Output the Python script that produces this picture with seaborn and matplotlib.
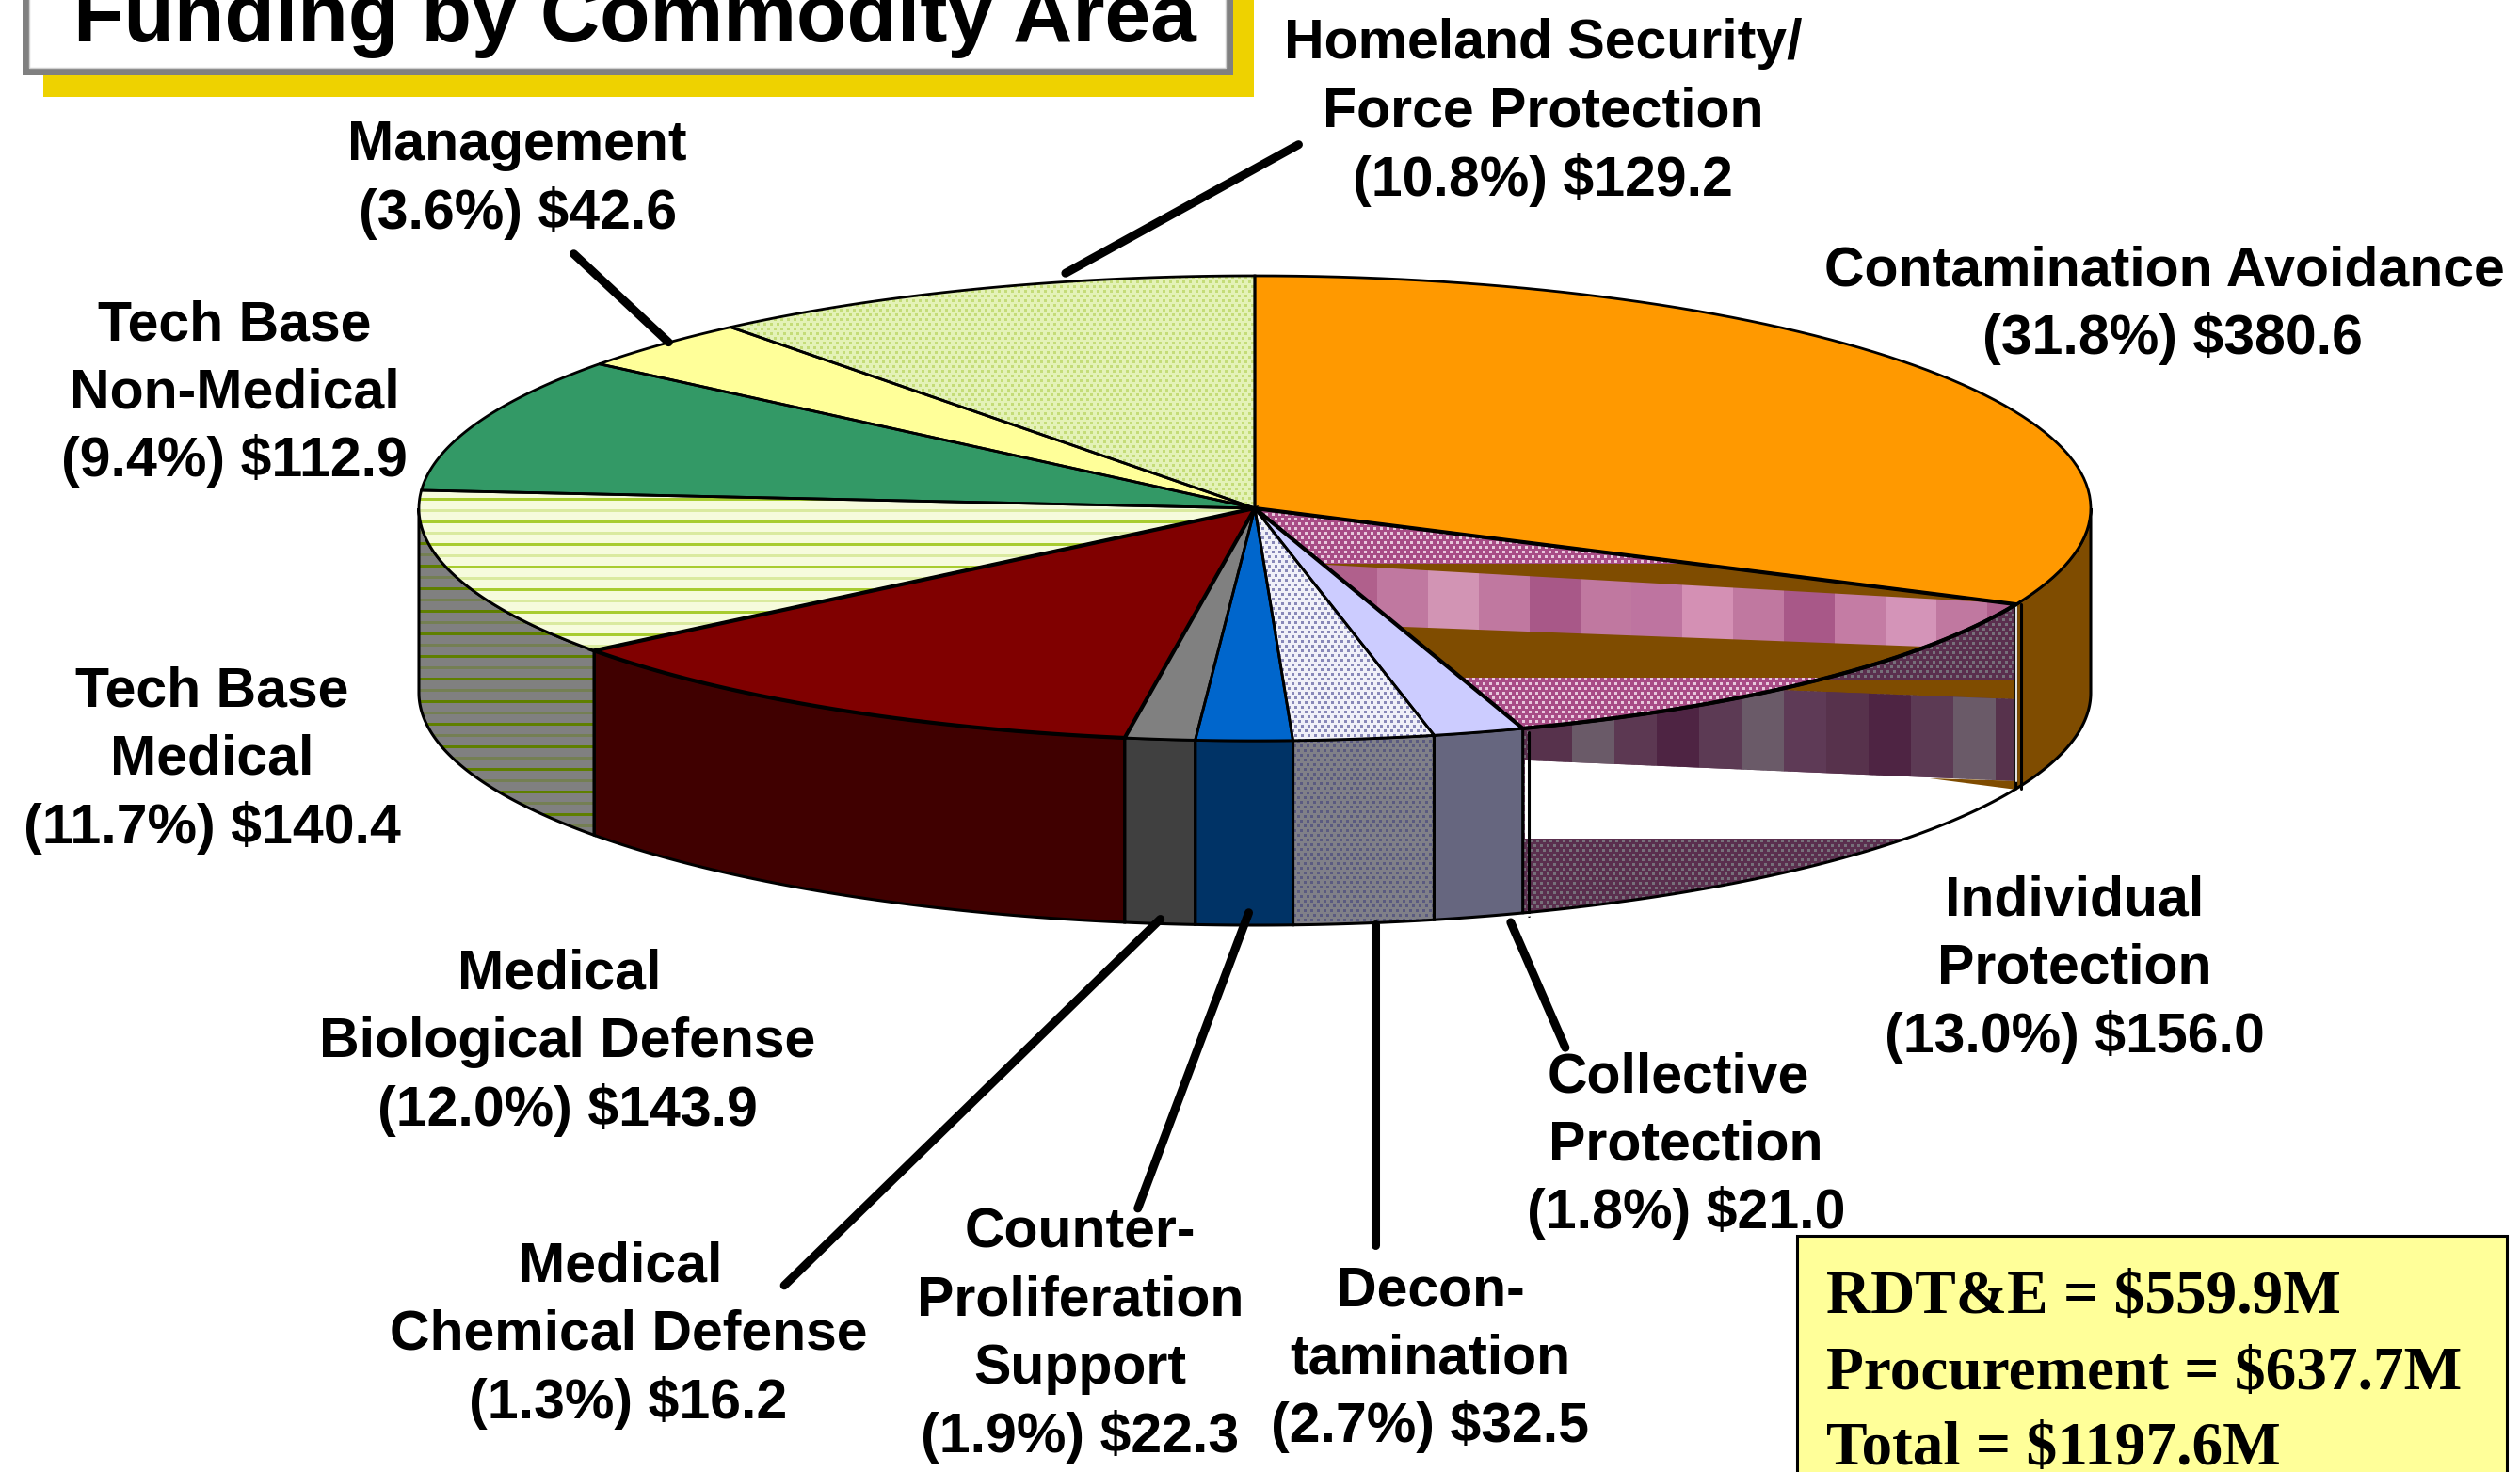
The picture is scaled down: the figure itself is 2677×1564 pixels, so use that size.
import numpy as np
import matplotlib
matplotlib.use('Agg')
import matplotlib.pyplot as plt
from matplotlib.patches import Polygon, Rectangle
import seaborn as sns

# clockwise from 12 o'clock
areas = ['Contamination Avoidance', 'Individual Protection', 'Collective Protection', 'Decontamination',
         'Counter-Proliferation Support', 'Medical Chemical Defense', 'Medical Biological Defense',
         'Tech Base Medical', 'Tech Base Non-Medical', 'Management', 'Homeland Security/Force Protection']
funding = [380.6, 156.0, 21.0, 32.5, 22.3, 16.2, 143.9, 140.4, 112.9, 42.6, 129.2]
percent = [31.8, 13.0, 1.8, 2.7, 1.9, 1.3, 12.0, 11.7, 9.4, 3.6, 10.8]
top_colors = ['#FF9900', '#B8689A', '#CCCCFF', '#F0F0F8', '#0066CC', '#808080', '#800000',
              '#F6FBDC', '#339966', '#FFFF99', '#E4F2B8']
side_colors = ['#7F4C00', '#5A3550', '#66667F', '#808088', '#003366', '#404040', '#400000',
               '#808080', '#1A4C33', '#80804C', '#72795C']
label_lines = [['Contamination Avoidance'], ['Individual', 'Protection'], ['Collective', 'Protection'],
               ['Decon-', 'tamination'], ['Counter-', 'Proliferation', 'Support'],
               ['Medical', 'Chemical Defense'], ['Medical', 'Biological Defense'],
               ['Tech Base', 'Medical'], ['Tech Base', 'Non-Medical'], ['Management'],
               ['Homeland Security/', 'Force Protection']]
summary_lines = ['RDT&E = $559.9M', 'Procurement = $637.7M', 'Total = $1197.6M']
chart_title = 'Funding by Commodity Area'

W, H = 2677, 1564
S = W / 1568  # label spots
CX, CY, RX, RY, DEPTH = 1333, 540, 888, 247, 196
FS = 42.5

sns.set_theme(style='white')
plt.rcParams['font.family'] = ['Liberation Sans', 'DejaVu Sans']

fig = plt.figure(figsize=(W / 100, H / 100), dpi=100)
ax = fig.add_axes([0, 0, 1, 1])
ax.set_xlim(0, W)
ax.set_ylim(H, 0)
sns.despine(ax=ax, left=True, bottom=True)
ax.set_axis_off()


def arc(t0, t1, drop=0):
    t = np.radians(np.linspace(t0, t1, 80))
    return CX + RX * np.sin(t), CY - RY * np.cos(t) + drop


def top_poly(t0, t1):
    x, y = arc(t0, t1)
    return np.column_stack([np.r_[CX, x], np.r_[CY, y]])


def side_poly(t0, t1):
    x, y = arc(t0, t1)
    x2, y2 = arc(t1, t0, DEPTH)
    return np.column_stack([np.r_[x, x2], np.r_[y, y2]])


def clip_patch(points, z):
    p = Polygon(points, closed=True, facecolor='none', edgecolor='none', zorder=z)
    ax.add_patch(p)
    return p


def texture(points, base, ink, kind, z):
    x0, y0 = points.min(axis=0)
    x1, y1 = points.max(axis=0)
    w, h = int(x1 - x0) + 2, int(y1 - y0) + 2
    img = np.ones((h, w, 3)) * np.array(matplotlib.colors.to_rgb(base))
    c = np.array(matplotlib.colors.to_rgb(ink))
    yy, xx = np.indices((h, w))
    if kind == 'stripes':
        yy0 = yy + int(y0)
        img[yy0 % 24 < 3] = c
        pale = 0.35 * c + 0.65 * img[0, 0]
        img[(yy0 % 24 >= 12) & (yy0 % 24 < 15)] = pale
    else:
        row = yy // 5
        img[((xx + 3 * (row % 2)) % 7 < 3) & (yy % 5 < 3)] = c
    im = ax.imshow(img, extent=(x0, x0 + w, y0 + h, y0), aspect='auto', interpolation='nearest', zorder=z)
    im.set_clip_path(clip_patch(points, z))


def bands(points, boxes, z):
    clip = clip_patch(points, z)
    for pts, col in boxes:
        b = ax.fill(*zip(*pts), color=col, lw=0, zorder=z)[0]
        b.set_clip_path(clip)


def slanted_blocks(x0, x1, step, top, bottom, cols):
    out = []
    for i, x in enumerate(np.arange(x0, x1, step)):
        a, b = x, x + step
        out.append(([(a, top(a)), (b, top(b)), (b, bottom(b)), (a, bottom(a))], cols[i % len(cols)]))
    return out


palette = sns.color_palette(top_colors)
cuts = np.r_[0, np.cumsum(funding)] / sum(funding) * 360

# outer wall first, only the front half of the drum shows
for i in range(len(funding)):
    t0, t1 = max(cuts[i], 90), min(cuts[i + 1], 270)
    if t1 <= t0:
        continue
    pts = side_poly(t0, t1)
    if i == 1:
        continue
    if areas[i] == 'Tech Base Medical':
        texture(pts, side_colors[i], '#5F7F00', 'stripes', 2)
    elif areas[i] == 'Decontamination':
        texture(pts, side_colors[i], '#5A5A80', 'dots', 2)
    else:
        ax.add_patch(Polygon(pts, closed=True, fc=side_colors[i], ec='none', zorder=2))
    ax.add_patch(Polygon(pts, closed=True, fc='none', ec='black', lw=2.2, zorder=4))

# Individual Protection wall has the broken fill bands of the original
t0, t1 = cuts[1], cuts[2]
pts = side_poly(t0, t1)
texture(pts, '#5A2F4E', '#77707A', 'dots', 2)
top_side = lambda x: 734 + 0.039 * (x - 1912)
bot_side = lambda x: 808 + 0.0423 * (x - 1625)
dark = ['#57324C', '#6A5A68', '#5C3852', '#4E2443', '#5C3A54', '#6A5A68', '#5E3A56', '#57324C',
        '#4E2443', '#5C3A54', '#6A5A68']
side_boxes = [([(1620, 723), (2150, 723), (2150, top_side(2150)), (1620, top_side(1620))], '#7F4C00')]
side_boxes += [([(1620, bot_side(1620)), (2150, bot_side(2150)), (2150, 891), (1620, 891)], '#FFFFFF')]
side_boxes += [([(2050, 827), (2150, 830), (2150, 840)], '#7F4C00')]
side_boxes += slanted_blocks(1625, 2145, 45, top_side, bot_side, dark)
bands(pts, side_boxes, 3)
ax.plot([1624, 1624], [778, 973], color='black', lw=2.2, zorder=4)
ax.plot([2147, 2147], [642, 838], color='black', lw=2.2, zorder=4)
ax.plot([2142, 2142], [645, 830], color='#E0E0E0', lw=1.5, zorder=4)
ax.plot(*arc(t0, t1), color='black', lw=2.6, zorder=9)
ax.plot(*arc(t0, t1, DEPTH + 3), color='white', lw=2, zorder=4)
ax.plot(*arc(t0, t1, DEPTH), color='black', lw=2.2, zorder=4)

# top face
for i in range(len(funding)):
    pts = top_poly(cuts[i], cuts[i + 1])
    if areas[i] == 'Individual Protection':
        texture(pts, '#A84C86', '#E8C8DC', 'dots', 5)
        top_b = lambda x: 600 + 0.0566 * (x - 1409)
        bot_b = lambda x: 666 + 0.038 * (x - 1491)
        pink = ['#B0608C', '#C078A0', '#D294B4', '#C078A0', '#A85888', '#C078A0', '#BE74A0', '#D490B4',
                '#C078A0', '#A85888', '#C47CA4', '#D494B8', '#C078A0', '#B0608C']
        boxes = [([(1380, 599), (2200, 599), (2200, 720), (1380, 720)], '#7F4C00')]
        boxes += slanted_blocks(1409, 2160, 54, top_b, bot_b, pink)
        bands(pts, boxes, 6)
    elif areas[i] == 'Tech Base Medical':
        texture(pts, top_colors[i], '#A8CC30', 'stripes', 5)
    elif areas[i] == 'Decontamination':
        texture(pts, top_colors[i], '#8888B8', 'dots', 5)
    elif areas[i].startswith('Homeland'):
        texture(pts, top_colors[i], '#C4DC78', 'dots', 5)
    else:
        ax.add_patch(Polygon(pts, closed=True, fc=palette[i], ec='none', zorder=5))
    thick = 3.0 if areas[i] in ('Individual Protection', 'Medical Biological Defense') else 2.0
    ax.add_patch(Polygon(pts, closed=True, fc='none', ec='black', lw=thick, zorder=8))

# leader lines
leaders = [((357, 158), (416, 213)), ((663, 170), (808, 90)), ((722, 572), (488, 800)),
           ((777, 568), (708, 752)), ((856, 575), (856, 775)), ((940, 574), (974, 652))]
for (xa, ya), (xb, yb) in leaders:
    ax.plot([xa * S, xb * S], [ya * S, yb * S], color='black', lw=6.5, solid_capstyle='round', zorder=10)

# first-line centre of each label block
label_spots = [(1347, 165), (1291, 557), (1049, 667), (890, 800), (672, 764), (391, 785), (353, 603),
               (132, 427), (146, 199), (322, 87), (960, 24)]
for i, (lx, ly) in enumerate(label_spots):
    lines = label_lines[i] + [f'({percent[i]:.1f}%) ${funding[i]:.1f}']
    for j, line in enumerate(lines):
        dx = 0
        if areas[i] == 'Contamination Avoidance' and j == 1:
            dx = 5
        if areas[i] in ('Collective Protection', 'Medical Chemical Defense', 'Medical Biological Defense') and j == 0:
            dx = -5
        ax.text((lx + dx) * S, (ly + j * 42.2) * S, line, ha='center', va='center_baseline', fontsize=FS,
                fontweight='bold', color='black', zorder=11)

# title tag, cut by the top edge
ax.add_patch(Rectangle((46, -10), 1286, 113, fc='#EED200', ec='none', zorder=1))
ax.add_patch(Rectangle((24, -10), 1286, 90, fc='#808080', ec='none', zorder=2))
ax.add_patch(Rectangle((31, -10), 1271, 82, fc='white', ec='#D0D0D0', lw=1, zorder=3))
ax.text(674, 44, chart_title, ha='center', va='baseline', fontsize=63, fontweight='bold', color='black', zorder=4)

# summary box
ax.add_patch(Rectangle((1909, 1313), 754, 270, fc='#FFFF99', ec='black', lw=2.2, zorder=10))
for line, y in zip(summary_lines, [1372, 1453, 1533]):
    ax.text(1940, y, line, ha='left', va='center_baseline', fontsize=47, fontweight='bold',
            family=['Liberation Serif', 'DejaVu Serif'], color='black', zorder=11)

ax.set_xlim(0, W)
ax.set_ylim(H, 0)
fig.savefig('out.png', dpi=100, facecolor='white')
plt.close(fig)
